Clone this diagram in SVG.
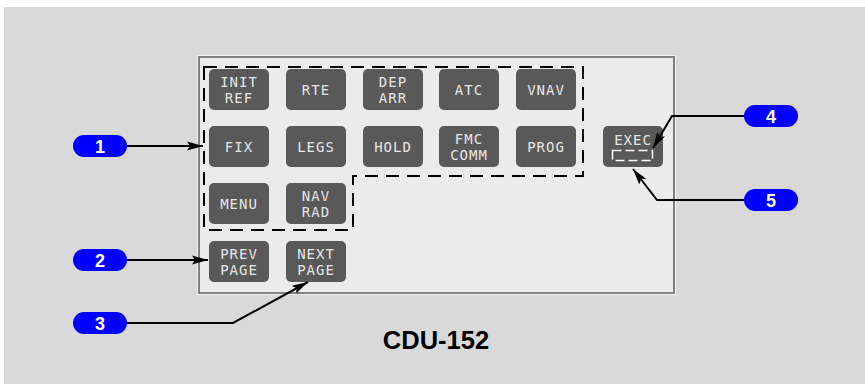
<svg xmlns="http://www.w3.org/2000/svg" width="865" height="384" viewBox="0 0 865 384">
<defs>
<style>
.btn rect{fill:#595959;}
.btn text{fill:#e6e6e6;font-family:"DejaVu Sans Mono",monospace;font-size:14px;text-anchor:middle;letter-spacing:1px;}
.pill rect{fill:#0000ff;}
.pill text{fill:#ffffff;font-family:"Liberation Sans",Arial,sans-serif;font-weight:bold;font-size:18px;text-anchor:middle;}
.conn{fill:none;stroke:#000;stroke-width:2;marker-end:url(#ah);}
</style>
<marker id="ah" markerUnits="userSpaceOnUse" markerWidth="17" markerHeight="12" refX="16" refY="6" orient="auto">
<path d="M0,1.5 L16,6 L0,10.5 L3,6 Z" fill="#000"/>
</marker>
</defs>
<rect x="4" y="7" width="861" height="377" fill="#d9d9d9"/>
<g id="panel">
<rect x="197.5" y="55.5" width="478" height="239" fill="none" stroke="#f2f2f2" stroke-width="1"/>
<rect x="199" y="57" width="475" height="236" fill="#ebebeb" stroke="#808080" stroke-width="2"/>
</g>
<g id="group-outline">
<path d="M204,67 H583 V176 H353 V230 H204 Z" fill="none" stroke="#000" stroke-width="2" stroke-dasharray="13 8"/>
</g>
<g id="btn-init-ref" class="btn"><rect x="209" y="69" width="60" height="41" rx="5"/><text x="239" y="86.5">INIT</text><text x="239" y="103">REF</text></g>
<g id="btn-rte" class="btn"><rect x="286" y="69" width="60" height="41" rx="5"/><text x="316" y="95">RTE</text></g>
<g id="btn-dep-arr" class="btn"><rect x="363" y="69" width="60" height="41" rx="5"/><text x="393" y="86.5">DEP</text><text x="393" y="103">ARR</text></g>
<g id="btn-atc" class="btn"><rect x="439" y="69" width="60" height="41" rx="5"/><text x="469" y="95">ATC</text></g>
<g id="btn-vnav" class="btn"><rect x="516" y="69" width="60" height="41" rx="5"/><text x="546" y="95">VNAV</text></g>
<g id="btn-fix" class="btn"><rect x="209" y="126" width="60" height="41" rx="5"/><text x="239" y="152">FIX</text></g>
<g id="btn-legs" class="btn"><rect x="286" y="126" width="60" height="41" rx="5"/><text x="316" y="152">LEGS</text></g>
<g id="btn-hold" class="btn"><rect x="363" y="126" width="60" height="41" rx="5"/><text x="393" y="152">HOLD</text></g>
<g id="btn-fmc-comm" class="btn"><rect x="439" y="126" width="60" height="41" rx="5"/><text x="469" y="143.5">FMC</text><text x="469" y="160">COMM</text></g>
<g id="btn-prog" class="btn"><rect x="516" y="126" width="60" height="41" rx="5"/><text x="546" y="152">PROG</text></g>
<g id="btn-exec" class="btn"><rect x="603" y="126" width="60" height="41" rx="5"/><text x="633" y="145">EXEC</text><rect x="612.5" y="150.5" width="40" height="10" fill="none" stroke="#ffffff" stroke-width="1.5" stroke-dasharray="9 4" style="fill:none"/></g>
<g id="btn-menu" class="btn"><rect x="209" y="183" width="60" height="41" rx="5"/><text x="239" y="209">MENU</text></g>
<g id="btn-nav-rad" class="btn"><rect x="286" y="183" width="60" height="41" rx="5"/><text x="316" y="200.5">NAV</text><text x="316" y="217">RAD</text></g>
<g id="btn-prev-page" class="btn"><rect x="209" y="241" width="60" height="41" rx="5"/><text x="239" y="258.5">PREV</text><text x="239" y="275">PAGE</text></g>
<g id="btn-next-page" class="btn"><rect x="286" y="241" width="60" height="41" rx="5"/><text x="316" y="258.5">NEXT</text><text x="316" y="275">PAGE</text></g>
<g id="connectors">
<path class="conn" d="M127,146 H203"/>
<path class="conn" d="M127,260 H208"/>
<path class="conn" d="M127,323 H233 L308,282"/>
<path class="conn" d="M744,116 H672 L653,148"/>
<path class="conn" d="M744,200 H657 L633,169"/>
</g>
<g id="callout-1" class="pill"><rect x="73" y="135" width="54" height="22" rx="11"/><text x="100" y="152.5">1</text></g>
<g id="callout-2" class="pill"><rect x="73" y="249" width="54" height="22" rx="11"/><text x="100" y="266.5">2</text></g>
<g id="callout-3" class="pill"><rect x="73" y="312" width="54" height="22" rx="11"/><text x="100" y="329.5">3</text></g>
<g id="callout-4" class="pill"><rect x="744" y="105" width="54" height="22" rx="11"/><text x="771" y="122.5">4</text></g>
<g id="callout-5" class="pill"><rect x="744" y="189" width="54" height="22" rx="11"/><text x="771" y="206.5">5</text></g>
<text id="title" x="436" y="349" font-family="Liberation Sans,Arial,sans-serif" font-weight="bold" font-size="25.5" text-anchor="middle" fill="#000">CDU-152</text>
</svg>
